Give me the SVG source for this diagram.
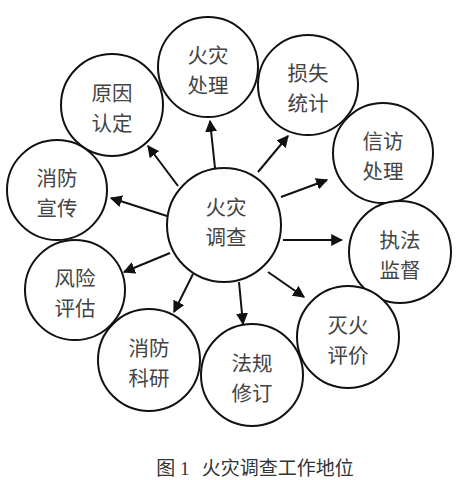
<svg xmlns="http://www.w3.org/2000/svg" width="460" height="480" viewBox="0 0 460 480">
<defs>
<style>
.n circle{fill:#fff;stroke:#111;stroke-width:2}
.n text,.cap{font-family:"Noto Sans CJK SC","Noto Sans",sans-serif;fill:#444;font-size:20.5px;text-anchor:middle;dominant-baseline:central}
.cap{font-family:"Liberation Serif","Noto Sans CJK SC",serif;font-size:19px;fill:#333}
#edges line{stroke:#111;stroke-width:2;marker-end:url(#ah)}
</style>
<marker id="ah" viewBox="0 0 10 10" refX="9" refY="5" markerWidth="6" markerHeight="6" markerUnits="strokeWidth" orient="auto">
<path d="M0,0 L10,5 L0,10 z" fill="#111"/>
</marker>
</defs>
<rect width="460" height="480" fill="#fff"/>
<g id="edges">
<line x1="215" y1="168" x2="210" y2="121"/>
<line x1="178" y1="186" x2="148" y2="146"/>
<line x1="258" y1="172" x2="288" y2="136"/>
<line x1="281" y1="197" x2="327" y2="180"/>
<line x1="167" y1="216" x2="111" y2="198"/>
<line x1="283" y1="240" x2="342" y2="240"/>
<line x1="170" y1="253" x2="124" y2="272"/>
<line x1="193" y1="274" x2="174" y2="312"/>
<line x1="239" y1="282" x2="243" y2="324"/>
<line x1="268" y1="272" x2="304" y2="297"/>
</g>
<g id="center" class="n"><circle cx="224" cy="225" r="57"/><text x="226" y="206">火灾</text><text x="226" y="236">调查</text></g>
<g id="n1" class="n"><circle cx="208" cy="67" r="50"/><text x="208" y="54">火灾</text><text x="208" y="84">处理</text></g>
<g id="n2" class="n"><circle cx="112" cy="105" r="51"/><text x="112" y="92">原因</text><text x="112" y="122">认定</text></g>
<g id="n3" class="n"><circle cx="308" cy="85" r="50"/><text x="308" y="72">损失</text><text x="308" y="102">统计</text></g>
<g id="n4" class="n"><circle cx="383" cy="153" r="50"/><text x="383" y="140">信访</text><text x="383" y="170">处理</text></g>
<g id="n5" class="n"><circle cx="57" cy="190" r="50"/><text x="57" y="177">消防</text><text x="57" y="207">宣传</text></g>
<g id="n6" class="n"><circle cx="400" cy="252" r="51"/><text x="400" y="239">执法</text><text x="400" y="269">监督</text></g>
<g id="n7" class="n"><circle cx="75" cy="290" r="50"/><text x="75" y="277">风险</text><text x="75" y="307">评估</text></g>
<g id="n8" class="n"><circle cx="149" cy="360" r="51"/><text x="149" y="347">消防</text><text x="149" y="377">科研</text></g>
<g id="n9" class="n"><circle cx="252" cy="375" r="51"/><text x="252" y="362">法规</text><text x="252" y="392">修订</text></g>
<g id="n10" class="n"><circle cx="348" cy="337" r="51"/><text x="348" y="324">灭火</text><text x="348" y="354">评价</text></g>
<text class="cap" x="255" y="468">图 1<tspan dx="12">火灾调查工作地位</tspan></text>
</svg>
